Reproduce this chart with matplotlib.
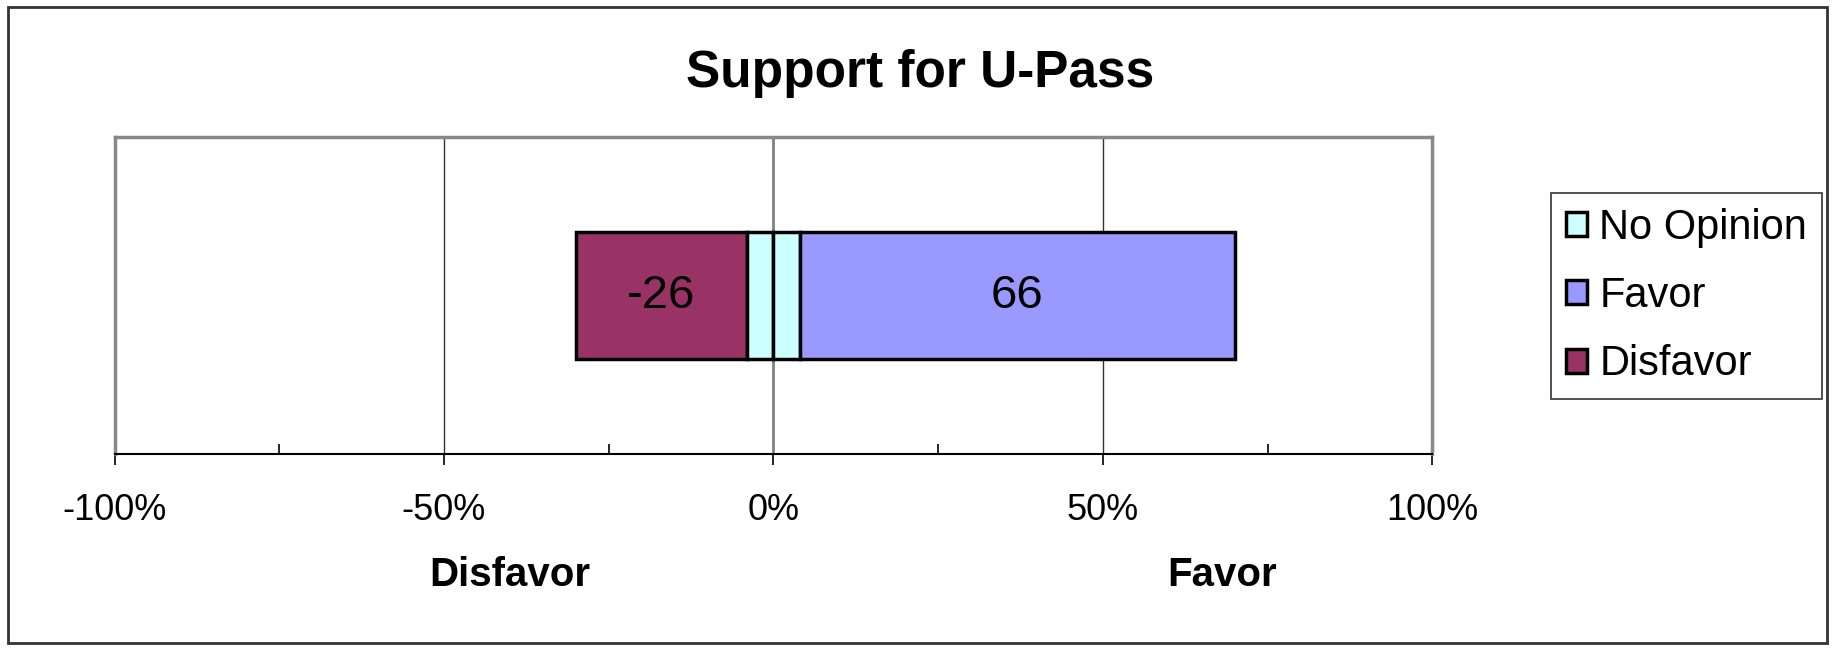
import matplotlib.pyplot as plt
from matplotlib.patches import Rectangle
from matplotlib.ticker import MultipleLocator, FuncFormatter
from matplotlib.transforms import blended_transform_factory

plt.rcParams['font.family'] = ['Liberation Sans', 'DejaVu Sans']

# --- Data ---
categories = ['No Opinion', 'Favor', 'Disfavor']
no_opinion = 8
favor = 66
disfavor = 26
colors = {'No Opinion': '#ccffff', 'Favor': '#9999ff', 'Disfavor': '#993366'}

fig = plt.figure(figsize=(18.32, 6.49), dpi=100)
ax = fig.add_axes([0.0625, 0.2997, 0.7194, 0.4897])

y = 0
h = 0.41
half = no_opinion / 2

# bars: disfavor goes left of the no-opinion half, favor right of it
b_dis = ax.barh(y, -disfavor, left=-half, height=h, color=colors['Disfavor'],
                edgecolor='black', linewidth=2.5, label='Disfavor', zorder=3)
ax.barh(y, -half, left=0, height=h, color=colors['No Opinion'],
        edgecolor='black', linewidth=2.5, zorder=3)
b_no = ax.barh(y, half, left=0, height=h, color=colors['No Opinion'],
               edgecolor='black', linewidth=2.5, label='No Opinion', zorder=3)
b_fav = ax.barh(y, favor, left=half, height=h, color=colors['Favor'],
                edgecolor='black', linewidth=2.5, label='Favor', zorder=3)

ax.text(-half - disfavor / 2, y, f'-{disfavor}', ha='center', va='center', fontsize=34, zorder=4)
ax.text(half + favor / 2, y, f'{favor}', ha='center', va='center', fontsize=34, zorder=4)

ax.set_xlim(-100, 100)
ax.set_ylim(-0.51, 0.51)
ax.set_yticks([])
ax.xaxis.set_major_locator(MultipleLocator(50))
ax.xaxis.set_minor_locator(MultipleLocator(25))
ax.xaxis.set_major_formatter(FuncFormatter(lambda v, p: f'{v:.0f}%'))
ax.tick_params(axis='x', which='major', direction='out', length=8, width=1.2,
               labelsize=26, pad=20)
ax.tick_params(axis='x', which='minor', direction='in', length=7, width=1.2)

for gx in [-50, 50]:
    ax.axvline(gx, color='#333333', lw=1, zorder=1)
ax.axvline(0, color='#808080', lw=2, zorder=2)

for s in ['top', 'left', 'right']:
    ax.spines[s].set_color('#888888')
    ax.spines[s].set_linewidth(2.5)
ax.spines['bottom'].set_color('black')
ax.spines['bottom'].set_linewidth(1.5)

tr = blended_transform_factory(ax.transData, ax.transAxes)
ax.text(-40, -0.38, 'Disfavor', transform=tr, ha='center', va='center',
        fontsize=29, fontweight='bold')
ax.text(68, -0.38, 'Favor', transform=tr, ha='center', va='center',
        fontsize=29, fontweight='bold')

fig.text(0.502, 0.887, 'Support for U-Pass', ha='center', va='center',
         fontsize=37, fontweight='bold')

leg = fig.legend(handles=[b_no, b_fav, b_dis], labels=categories,
                 loc='upper left', bbox_to_anchor=(0.8466, 0.703),
                 fontsize=30, frameon=True, fancybox=False, handlelength=0.5,
                 handleheight=0.5, handletextpad=0.3, labelspacing=0.68,
                 borderpad=0.36, borderaxespad=0)
leg.get_frame().set_edgecolor('black')
leg.get_frame().set_linewidth(1.2)

fig.patches.append(Rectangle((0.0045, 0.009), 0.9925, 0.98, transform=fig.transFigure,
                             fill=False, edgecolor='#333333', linewidth=2))

fig.savefig('out.png', dpi=100)
